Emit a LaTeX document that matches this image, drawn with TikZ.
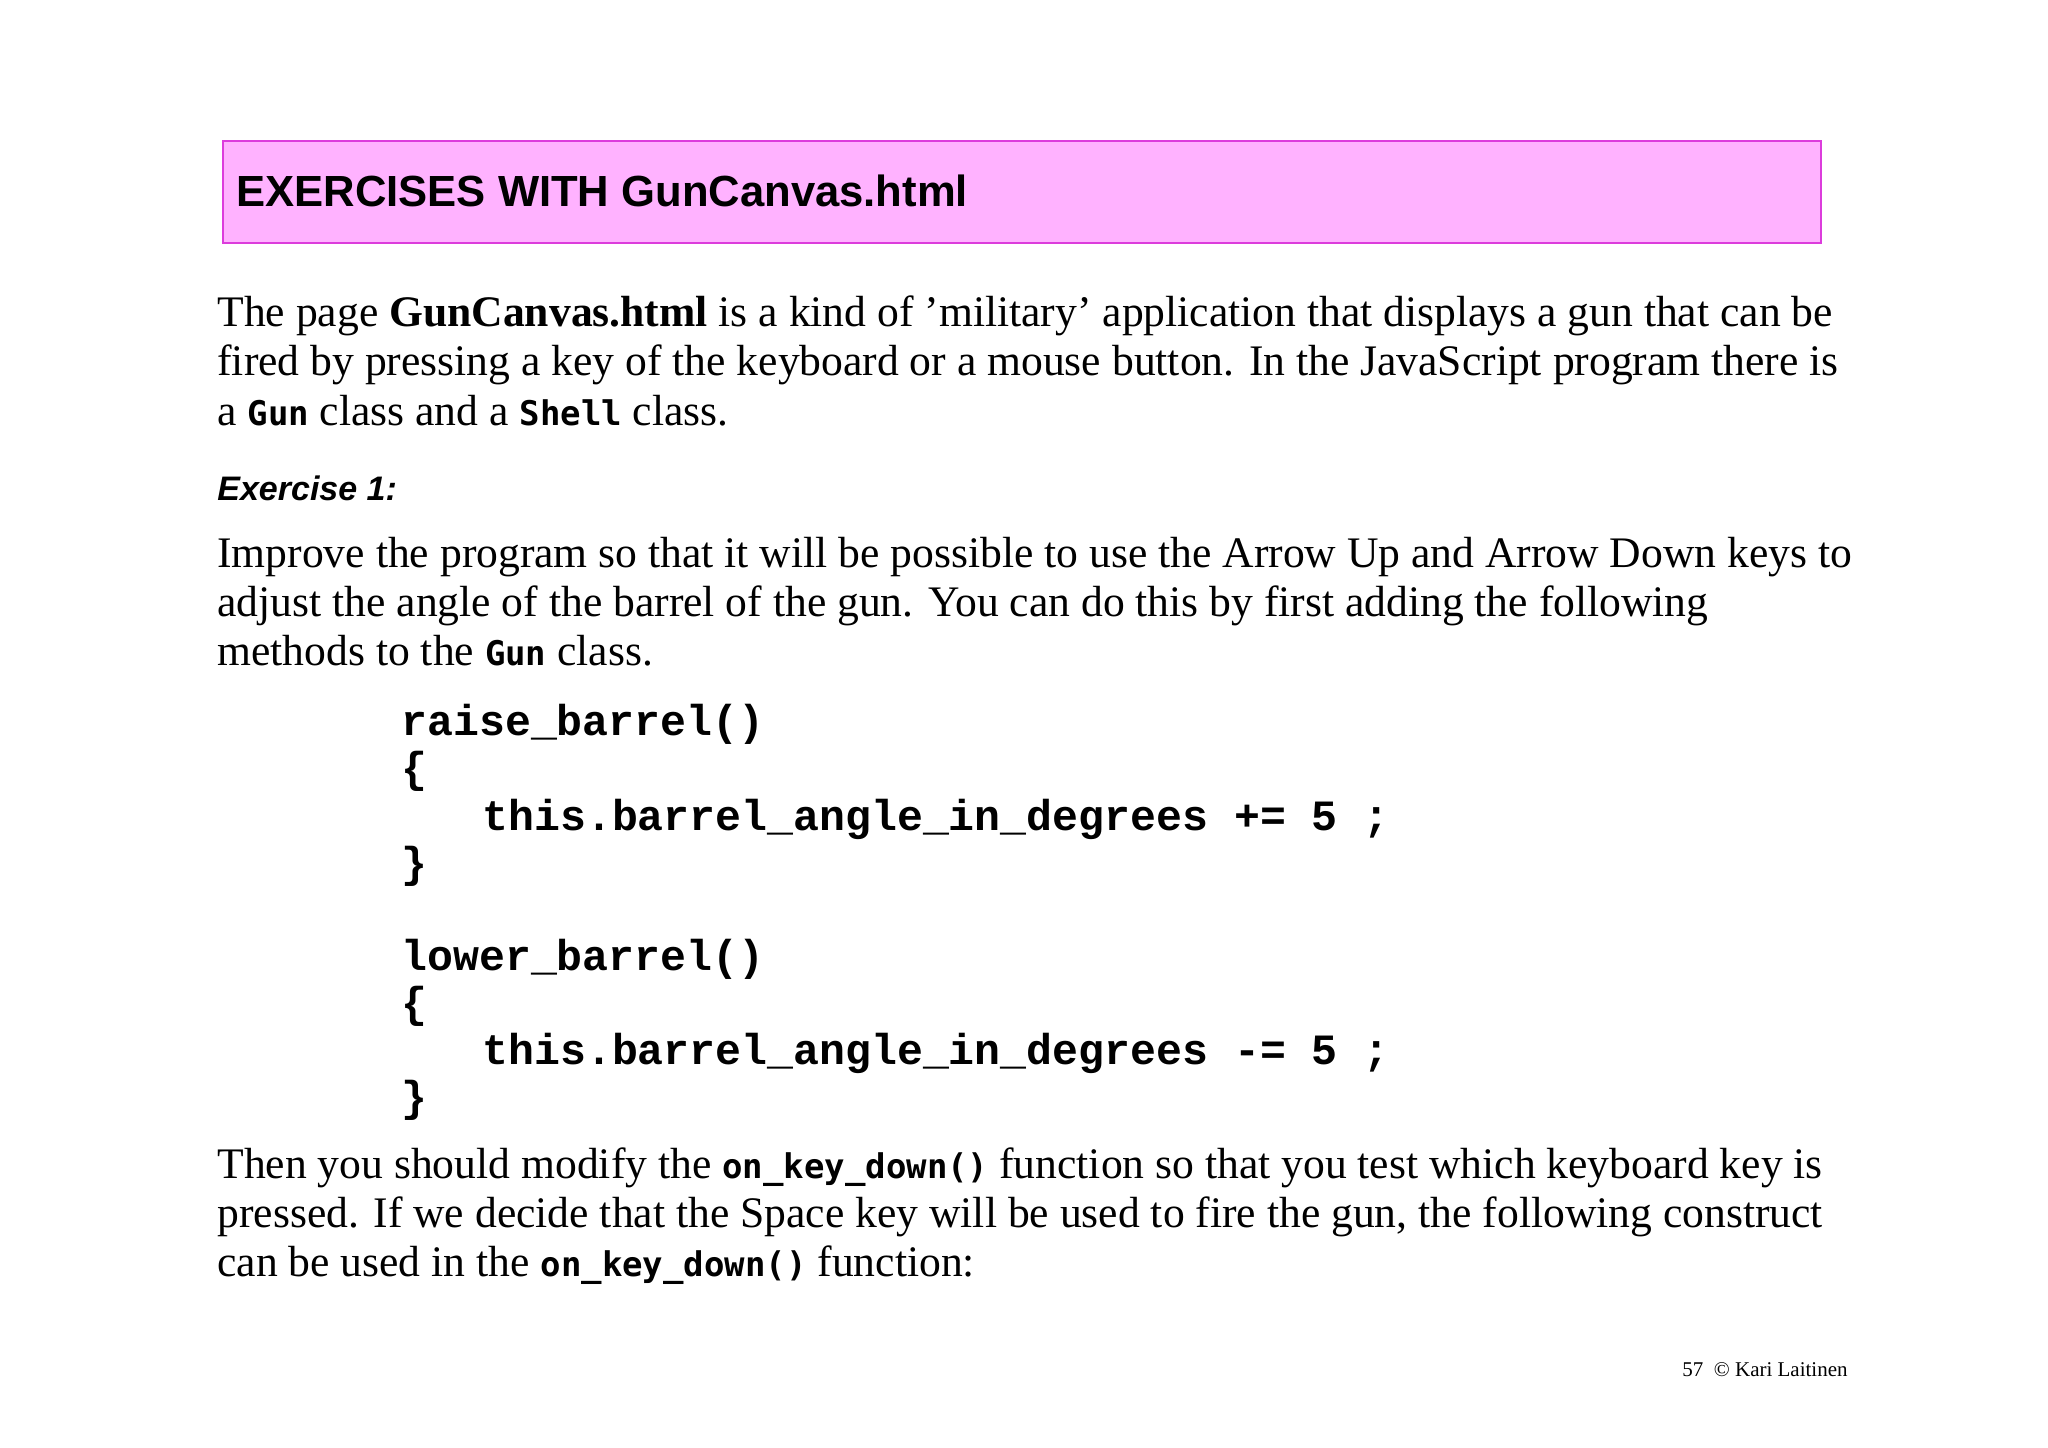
\documentclass[tikz,border=0pt]{standalone}
\usepackage{fontspec}
\setmainfont{Liberation Serif}
\newfontfamily\arialf{Liberation Sans}
\newfontfamily\courf{Liberation Mono}
\newfontfamily\consf{DejaVu Sans Mono}
\newcommand{\ic}[1]{{\consf\bfseries\fontsize{17}{20}\selectfont #1}}
\begin{document}
\begin{tikzpicture}[x=0.5pt,y=-0.5pt,
  body/.style={anchor=base west,inner sep=0pt,font=\fontsize{21.8}{24}\selectfont},
  code/.style={anchor=base west,inner sep=0pt,font=\courf\bfseries\fontsize{21.6}{24}\selectfont}]
\useasboundingbox (0,0) rectangle (2048,1447);
\node[draw={rgb,255:red,220;green,60;blue,220},fill={rgb,255:red,255;green,178;blue,255},line width=0.8pt,minimum width=799pt,minimum height=51pt,inner sep=0pt,anchor=north west] (hdr) at (222,140) {};
\node[anchor=base west,inner sep=0pt,font=\arialf\bfseries\fontsize{21.8}{24}\selectfont] (title) at (236,206) {EXERCISES WITH GunCanvas.html};
\node[body] (p1a) at (217,326) {The page \textbf{GunCanvas.html} is a kind of ’military’ application that displays a gun that can be};
\node[body] (p1b) at (217,375) {fired by pressing a key of the keyboard or a mouse button. In the JavaScript program there is};
\node[body] (p1c) at (217,425) {a \ic{Gun} class and a \ic{Shell} class.};
\node[anchor=base west,inner sep=0pt,font=\arialf\bfseries\itshape\fontsize{17}{18}\selectfont] (ex) at (217,500) {Exercise 1:};
\node[body] (p2a) at (217,567) {Improve the program so that it will be possible to use the Arrow Up and Arrow Down keys to};
\node[body] (p2b) at (217,616) {adjust the angle of the barrel of the gun. You can do this by first adding the following};
\node[body] (p2c) at (217,665) {methods to the \ic{Gun} class.};
\node[code] (c1) at (401,735) {raise\_barrel()};
\node[code] (c2) at (401,782) {\{};
\node[code] (c3) at (482,830) {this.barrel\_angle\_in\_degrees += 5 ;};
\node[code] (c4) at (401,877) {\}};
\node[code] (c5) at (401,970) {lower\_barrel()};
\node[code] (c6) at (401,1017) {\{};
\node[code] (c7) at (482,1064) {this.barrel\_angle\_in\_degrees -= 5 ;};
\node[code] (c8) at (401,1111) {\}};
\node[body] (p3a) at (217,1178) {Then you should modify the \ic{on\_key\_down()} function so that you test which keyboard key is};
\node[body] (p3b) at (217,1227) {pressed. If we decide that the Space key will be used to fire the gun, the following construct};
\node[body] (p3c) at (217,1276) {can be used in the \ic{on\_key\_down()} function:};
\node[anchor=base east,inner sep=0pt,font=\fontsize{10.5}{12}\selectfont] (foot) at (1848,1376) {57\enspace© Kari Laitinen};
\end{tikzpicture}
\end{document}
